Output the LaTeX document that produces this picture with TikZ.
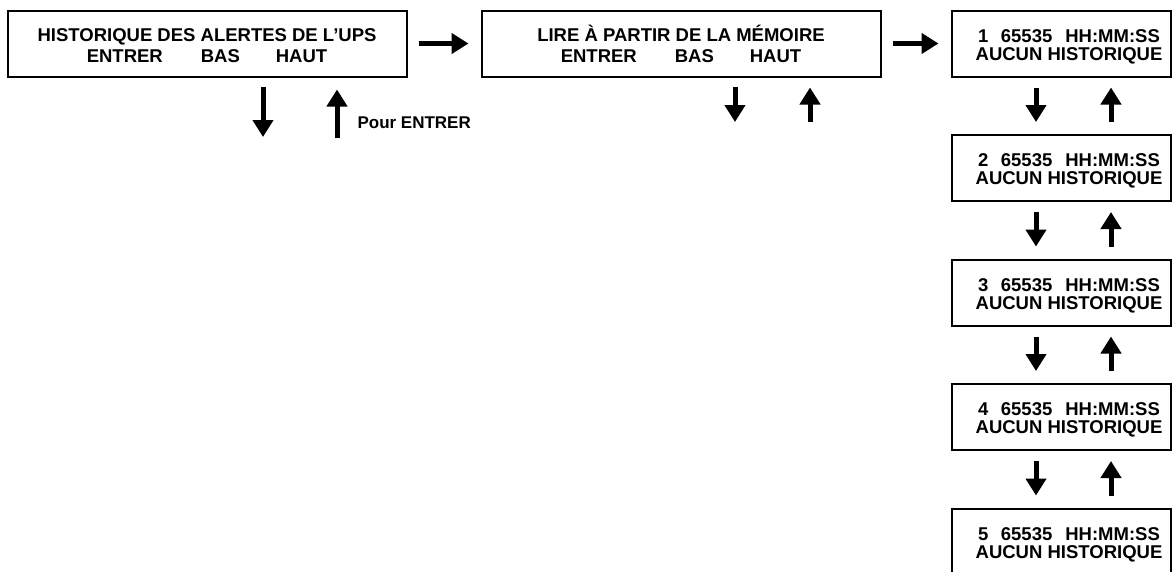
\documentclass[tikz,border=0pt]{standalone}
\usepackage{fontspec}
\setmainfont{Liberation Sans}
\usetikzlibrary{arrows.meta}

\newcommand{\toprule}{\rule{0pt}{19pt}}
\newcommand{\keyrow}{ENTRER\hspace{38pt}BAS\hspace{36pt}HAUT\rule[-3pt]{0pt}{3pt}}
\newcommand{\histline}[1]{\hspace*{16pt}\toprule#1\hspace{12.5pt}65535\hspace{13pt}HH:MM:SS\\
    \hspace*{16pt}AUCUN HISTORIQUE\rule[-4pt]{0pt}{4pt}}

\begin{document}
\begin{tikzpicture}[
    x=1pt, y=-1pt,
    screen/.style={rectangle, draw, line width=2pt, minimum height=66pt, align=center,
                   inner sep=0pt},
    wide/.style={screen, minimum width=399pt, font=\bfseries\fontsize{18.5}{21}\selectfont},
    slot/.style={screen, minimum width=219pt, font=\bfseries\fontsize{18.5}{18}\selectfont},
    flow/.style={-{Triangle[width=20pt,length=17pt]}, line width=5pt},
    note/.style={font=\bfseries\fontsize{17}{20}\selectfont}
]
    \clip (0,0) rectangle (1172,571);

    % Menu screens
    \node[wide] (hist) at (207,43.5) {\toprule HISTORIQUE DES ALERTES DE L’UPS\\\keyrow};
    \node[wide] (lire) at (681,43.5) {\toprule LIRE À PARTIR DE LA MÉMOIRE\\\keyrow};

    % History entries
    \node[slot] (ent1) at (1061,43.5)  {\histline{1}};
    \node[slot] (ent2) at (1061,168)   {\histline{2}};
    \node[slot] (ent3) at (1061,292.5) {\histline{3}};
    \node[slot] (ent4) at (1061,417)   {\histline{4}};
    \node[slot] (ent5) at (1061,541.5) {\histline{5}};

    % Forward path
    \draw[flow, shorten <=11pt, shorten >=12pt] (hist) -- (lire);
    \draw[flow, shorten <=11pt, shorten >=12pt] (lire) -- (ent1);

    % Scrolling under the first screens
    \coordinate (histdown) at (263,137);
    \coordinate (histup)   at (337,138);
    \coordinate (liredown) at (735,122);
    \coordinate (lireup)   at (810,122);

    \draw[flow, shorten <=9pt]  (hist.south -| histdown) -- (histdown);
    \draw[flow, shorten >=12pt] (histup) -- (hist.south -| histup);
    \node[note, anchor=west] (pour) at (354,123) {Pour ENTRER};

    \draw[flow, shorten <=9pt]  (lire.south -| liredown) -- (liredown);
    \draw[flow, shorten >=10pt] (lireup) -- (lire.south -| lireup);

    % Scrolling between entries
    \draw[flow, shorten <=10pt, shorten >=12pt] ([xshift=-25pt]ent1.south) -- ([xshift=-25pt]ent2.north);
    \draw[flow, shorten <=12pt, shorten >=10pt] ([xshift=50pt]ent2.north) -- ([xshift=50pt]ent1.south);
    \draw[flow, shorten <=10pt, shorten >=12pt] ([xshift=-25pt]ent2.south) -- ([xshift=-25pt]ent3.north);
    \draw[flow, shorten <=12pt, shorten >=10pt] ([xshift=50pt]ent3.north) -- ([xshift=50pt]ent2.south);
    \draw[flow, shorten <=10pt, shorten >=12pt] ([xshift=-25pt]ent3.south) -- ([xshift=-25pt]ent4.north);
    \draw[flow, shorten <=12pt, shorten >=10pt] ([xshift=50pt]ent4.north) -- ([xshift=50pt]ent3.south);
    \draw[flow, shorten <=10pt, shorten >=12pt] ([xshift=-25pt]ent4.south) -- ([xshift=-25pt]ent5.north);
    \draw[flow, shorten <=12pt, shorten >=10pt] ([xshift=50pt]ent5.north) -- ([xshift=50pt]ent4.south);
\end{tikzpicture}
\end{document}
